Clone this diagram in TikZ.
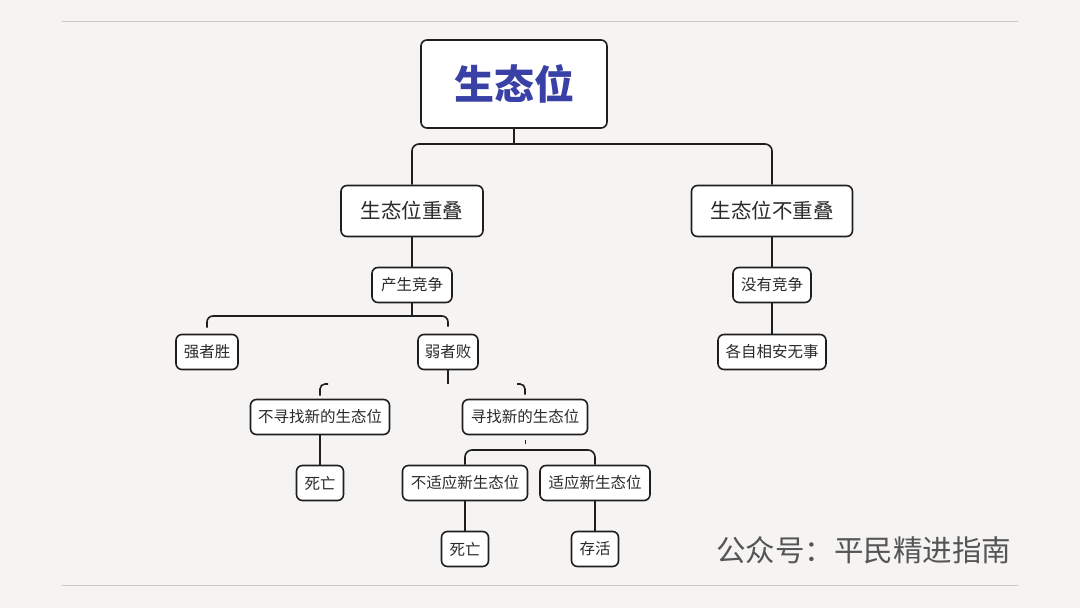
\documentclass[tikz,border=0pt]{standalone}
\usepackage{fontspec}
\setmainfont{Noto Sans CJK SC}
\usetikzlibrary{calc}
\definecolor{bg}{HTML}{F5F4F2}
\definecolor{ink}{HTML}{1E1E1E}
\definecolor{txt}{HTML}{2A2A2A}
\definecolor{ttl}{HTML}{3A41A6}
\definecolor{rule}{HTML}{C8C8C8}
\definecolor{wm}{HTML}{555555}
\tikzset{
  box/.style={draw=ink, line width=1.6pt, fill=white, rounded corners=6pt, inner sep=0pt, text=txt, align=center},
  bigbox/.style={box, font=\fontsize{20.5}{24}\selectfont},
  smallbox/.style={box, font=\fontsize{15.5}{18}\selectfont},
  conn/.style={draw=ink, line width=1.6pt},
}
\begin{document}
\begin{tikzpicture}[x=1pt,y=-1pt]
\fill[bg] (0,0) rectangle (1080,608);
\useasboundingbox (0,0) rectangle (1080,608);
\draw[rule, line width=1pt] (62,21) -- (1018,21);
\draw[rule, line width=1pt] (62,585) -- (1018,585);

\node[box, minimum width=186pt, minimum height=88pt, text=ttl, font=\fontsize{40}{46}\selectfont\bfseries] (root) at (514,84) {生态位};
\node[bigbox, minimum width=142pt, minimum height=51pt] (ov) at (412,211) {生态位重叠};
\node[bigbox, minimum width=161pt, minimum height=51pt] (nov) at (772,211) {生态位不重叠};
\node[smallbox, minimum width=80pt, minimum height=35pt] (cj) at (412,285) {产生竞争};
\node[smallbox, minimum width=78pt, minimum height=35pt] (nc) at (772,285) {没有竞争};
\node[smallbox, minimum width=108pt, minimum height=35pt] (peace) at (772,352) {各自相安无事};
\node[smallbox, minimum width=62pt, minimum height=35pt] (strong) at (207,352) {强者胜};
\node[smallbox, minimum width=60pt, minimum height=35pt] (weak) at (448,352) {弱者败};
\node[smallbox, minimum width=139pt, minimum height=35pt] (nf) at (320,417) {不寻找新的生态位};
\node[smallbox, minimum width=125pt, minimum height=35pt] (ff) at (525,417) {寻找新的生态位};
\node[smallbox, minimum width=47pt, minimum height=35pt] (d1) at (320,483) {死亡};
\node[smallbox, minimum width=125pt, minimum height=35pt] (na) at (465,483) {不适应新生态位};
\node[smallbox, minimum width=110pt, minimum height=35pt] (ad) at (595,483) {适应新生态位};
\node[smallbox, minimum width=47pt, minimum height=35pt] (d2) at (465,549) {死亡};
\node[smallbox, minimum width=47pt, minimum height=35pt] (live) at (595,549) {存活};

\node[text=wm, font=\fontsize{29.5}{34}\selectfont, anchor=west, inner sep=0pt] (wmk) at (716,550) {公众号：平民精进指南};

% root fork
\coordinate (j1) at (514,144);
\draw[conn] (root.south) -- (j1);
\draw[conn, rounded corners=7pt] (ov.north) |- (j1) -| (nov.north);
% vertical links
\draw[conn] (ov.south) -- (cj.north);
\draw[conn] (nov.south) -- (nc.north);
\draw[conn] (nc.south) -- (peace.north);
% competition fork
\coordinate (j2) at (412,316);
\draw[conn] (cj.south) -- (j2);
\draw[conn, rounded corners=6pt, shorten <=6pt, shorten >=7pt] (strong.north) |- (j2) -| (weak.north);
% weak fork (hooks only)
\coordinate (j3) at (448,384);
\draw[conn] (weak.south) -- (j3);
\coordinate (hl) at (328,384);
\coordinate (hr) at (517,384);
\draw[conn, rounded corners=5pt, shorten >=3pt] (hl) -| (nf.north);
\draw[conn, rounded corners=5pt, shorten >=4pt] (hr) -| (ff.north);
\draw[conn] (nf.south) -- (d1.north);
% find fork
\coordinate (t1) at (525,440);
\coordinate (t2) at (525,444);
\draw[conn, line width=1pt] (t1) -- (t2);
\coordinate (j4) at (530,450);
\draw[conn, rounded corners=7pt] (na.north) |- (j4) -| (ad.north);
\draw[conn] (na.south) -- (d2.north);
\draw[conn] (ad.south) -- (live.north);
\end{tikzpicture}
\end{document}
